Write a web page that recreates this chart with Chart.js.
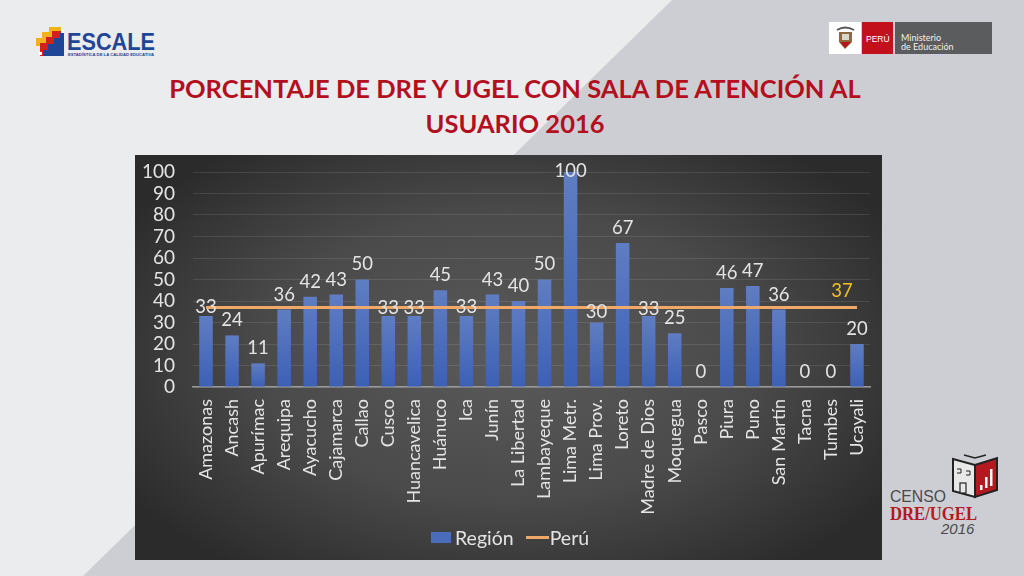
<!DOCTYPE html>
<html>
<head>
<meta charset="utf-8">
<title>Sala de atención al usuario 2016</title>
<script src="https://cdn.jsdelivr.net/npm/chart.js@4"></script>
<style>
html, body { margin: 0; padding: 0; }
body { width: 1024px; height: 576px; overflow: hidden; position: relative; background: #ebecee; font-family: Lato, sans-serif; }
#shade { position: absolute; left: 0; top: 0; width: 1024px; height: 576px; background: #cdced3; clip-path: polygon(672px 0, 1024px 0, 1024px 576px, 83px 576px); }
h1 { position: absolute; left: 135px; top: 71px; width: 760px; margin: 0; text-align: center; color: #b30f1e; font-size: 25.5px; line-height: 35px; font-weight: bold; }
#panel { position: absolute; left: 135px; top: 155px; width: 747px; height: 405px; background: radial-gradient(ellipse 60% 65% at 50% 50%, #5a5a5a 0%, #4a4a4a 55%, #2b2b2b 100%); }
#panel canvas { position: absolute; left: 0; top: 0; }
#legend { position: absolute; left: 296px; top: 370px; height: 24px; display: flex; align-items: center; color: #e4e4e4; font-size: 19.5px; }
#legend i { display: block; }
#legend .bar { width: 20px; height: 11px; margin-right: 4px; background: #4a6cba; }
#legend .line { width: 23px; height: 3px; margin-left: 12px; margin-right: 1px; background: #f0a868; }
svg { position: absolute; left: 0; top: 0; }
</style>
</head>
<body>
<div id="shade"></div>

<svg width="1024" height="576">
  <!-- ESCALE logo -->
  <path d="M36 46 V38 H42 V32 H49 V27 H61 V32 H64 V56 H40 V46 Z" fill="#f2b21b"/>
  <path d="M40 50 V43 H46 V37 H52 V31 H64 V56 H40 Z" fill="#d3201f"/>
  <path d="M43 56 V50 H48 V44 H54 V38 H60 V33 H64 V56 Z" fill="#1f4696"/>
  <rect x="61" y="30" width="3" height="3" fill="#ffffff"/>
  <rect x="39" y="52" width="3" height="3" fill="#ffffff"/>
  <text x="67" y="50" font-family="Liberation Sans" font-weight="bold" font-size="24" fill="#1f4696" textLength="88" lengthAdjust="spacingAndGlyphs">ESCALE</text>
  <text x="68" y="56" font-family="Liberation Sans" font-weight="bold" font-size="4" fill="#1f4696" textLength="86" lengthAdjust="spacingAndGlyphs">ESTADÍSTICA DE LA CALIDAD EDUCATIVA</text>

  <!-- Ministerio logo -->
  <rect x="829" y="22" width="32" height="32" fill="#ffffff"/>
  <path d="M837 30 Q845 25 854 30" fill="none" stroke="#555" stroke-width="2"/>
  <path d="M839 32 H852 V42 L845 49 L839 42 Z" fill="#8c6a3a"/>
  <rect x="842" y="34" width="7" height="6" fill="#d8d8d0"/>
  <path d="M840 42 H851 L845 48 Z" fill="#b3141d"/>
  <rect x="862" y="22" width="31" height="32" fill="#c2111d"/>
  <text x="866" y="42" font-family="Liberation Sans" font-size="8.5" fill="#ffffff">PERÚ</text>
  <rect x="895" y="22" width="97" height="32" fill="#5b5c5e"/>
  <text x="901" y="41" font-family="Lato" font-size="9" fill="#f0f0f0">Ministerio</text>
  <text x="901" y="50" font-family="Lato" font-size="9" fill="#f0f0f0">de Educación</text>

  <!-- Censo logo -->
  <path d="M953 459 L975 465 V497 L953 491 Z" fill="#e8e8e8" stroke="#222" stroke-width="2"/>
  <path d="M975 465 L997 458 V490 L975 497 Z" fill="#b3191f" stroke="#222" stroke-width="2"/>
  <path d="M964 455 L975 458 L986 455" fill="none" stroke="#222" stroke-width="1.5"/>
  <path d="M957 469 h4 v4 h-4 M966 471 h4 v4 h-4" fill="none" stroke="#222" stroke-width="1"/>
  <rect x="960" y="483" width="6" height="10" fill="#e8e8e8" stroke="#222" stroke-width="1.2"/>
  <path d="M980 490 v-5 h2.5 v5 z M985 488 v-11 h2.5 v11 z M990 486 v-17 h2.5 v17 z" fill="#ffffff"/>
  <text x="890" y="502" font-family="Liberation Sans" font-size="17" fill="#4a4a4a" textLength="56" lengthAdjust="spacingAndGlyphs">CENSO</text>
  <text x="890" y="520" font-family="Liberation Serif" font-weight="bold" font-size="19" fill="#b3191f" textLength="87" lengthAdjust="spacingAndGlyphs">DRE/UGEL</text>
  <text x="941" y="534" font-family="Liberation Sans" font-style="italic" font-size="15" fill="#4a4a4a">2016</text>
</svg>

<h1>PORCENTAJE DE DRE Y UGEL CON SALA DE ATENCIÓN AL<br>USUARIO 2016</h1>

<div id="panel">
    <canvas id="chartCanvas" width="747" height="405"></canvas>
    <div id="legend"><i class="bar"></i><span>Región</span><i class="line"></i><span>Perú</span></div>
</div>

<script>
// Values
const categories = ["Amazonas", "Ancash", "Apurímac", "Arequipa", "Ayacucho", "Cajamarca", "Callao", "Cusco",
    "Huancavelica", "Huánuco", "Ica", "Junín", "La Libertad", "Lambayeque", "Lima Metr.", "Lima Prov.",
    "Loreto", "Madre de Dios", "Moquegua", "Pasco", "Piura", "Puno", "San Martín", "Tacna", "Tumbes", "Ucayali"];
const regionValues = [33, 24, 11, 36, 42, 43, 50, 33, 33, 45, 33, 43, 40, 50, 100, 30, 67, 33, 25, 0, 46, 47, 36, 0, 0, 20];
const peruValues = [37, 37, 37, 37, 37, 37, 37, 37, 37, 37, 37, 37, 37, 37, 37, 37, 37, 37, 37, 37, 37, 37, 37, 37, 37, 37];
const yTicks = [0, 10, 20, 30, 40, 50, 60, 70, 80, 90, 100];

// Labels that sit closer to their bar than the default lift
const labelLift = { 0: 9, 7: 8, 8: 8, 10: 9, 14: 1, 15: 10, 17: 7 };

// Value labels for the bars, plus the single yellow one for the line
const valueLabels = {
    id: "valueLabels",
    afterDatasetsDraw(chart) {
        const ctx = chart.ctx;
        const bars = chart.getDatasetMeta(0).data;
        const points = chart.getDatasetMeta(1).data;
        ctx.save();
        ctx.font = "18.5px Lato";
        ctx.textAlign = "center";
        ctx.textBaseline = "middle";
        ctx.fillStyle = "#e4e4e4";
        bars.forEach((bar, i) => {
            const lift = labelLift[i] === undefined ? 15 : labelLift[i];
            ctx.fillText(regionValues[i], bar.x, bar.y - lift);
        });
        const last = points[points.length - 1];
        ctx.fillStyle = "#f2c01e";
        ctx.fillText(peruValues[peruValues.length - 1], last.x - 15, last.y - 16);
        ctx.restore();
    }
};

// Every bar fades from its own top down to the axis
function barFill(context) {
    const chart = context.chart;
    const yScale = chart.scales.y;
    if (!yScale || context.raw === undefined) return "#4a6cba";
    const top = yScale.getPixelForValue(context.raw);
    const bottom = yScale.getPixelForValue(0);
    if (!Number.isFinite(top) || !Number.isFinite(bottom) || top === bottom) return "#4a6cba";
    const fill = chart.ctx.createLinearGradient(0, top, 0, bottom);
    fill.addColorStop(0, "#5f7dc2");
    fill.addColorStop(1, "#3c60b5");
    return fill;
}

// Fixed axis size, so the plot area is just padding + axis sizes
function fitAxis(axis, size) {
    if (axis.isHorizontal()) axis.height = size; else axis.width = size;
    axis.paddingTop = 0;
    axis.paddingBottom = 0;
    axis.paddingLeft = 0;
    axis.paddingRight = 0;
}

const ctx = document.getElementById("chartCanvas").getContext("2d");

new Chart(ctx, {
    data: {
        labels: categories,
        datasets: [
            {
                type: "bar",
                label: "Región",
                data: regionValues,
                backgroundColor: barFill,
                barPercentage: 0.52,
                categoryPercentage: 1,
                order: 2
            },
            {
                type: "line",
                label: "Perú",
                data: peruValues,
                borderColor: "#f0a868",
                borderWidth: 3,
                pointRadius: 0,
                order: 1
            }
        ]
    },
    options: {
        responsive: false,
        animation: false,
        layout: { padding: { top: 17, right: 12, bottom: 0, left: 0 } },
        plugins: {
            tooltip: { enabled: false },
            legend: { display: false }
        },
        scales: {
            x: {
                grid: { display: false, drawTicks: false },
                border: { color: "#9a9a9a", width: 1.5 },
                afterFit: axis => fitAxis(axis, 173),
                ticks: {
                    color: "#e4e4e4",
                    font: { family: "Lato", size: 18 },
                    maxRotation: 90,
                    minRotation: 90,
                    autoSkip: false,
                    padding: 12
                }
            },
            y: {
                min: 0,
                max: 100,
                afterFit: axis => fitAxis(axis, 58),
                afterBuildTicks: axis => { axis.ticks = yTicks.map(v => ({ value: v })); },
                grid: { color: "rgba(255,255,255,0.1)", drawTicks: false },
                border: { display: false },
                ticks: {
                    color: "#e4e4e4",
                    font: { family: "Lato", size: 19 },
                    autoSkip: false,
                    padding: 18
                }
            }
        }
    },
    plugins: [valueLabels]
});
</script>
</body>
</html>
